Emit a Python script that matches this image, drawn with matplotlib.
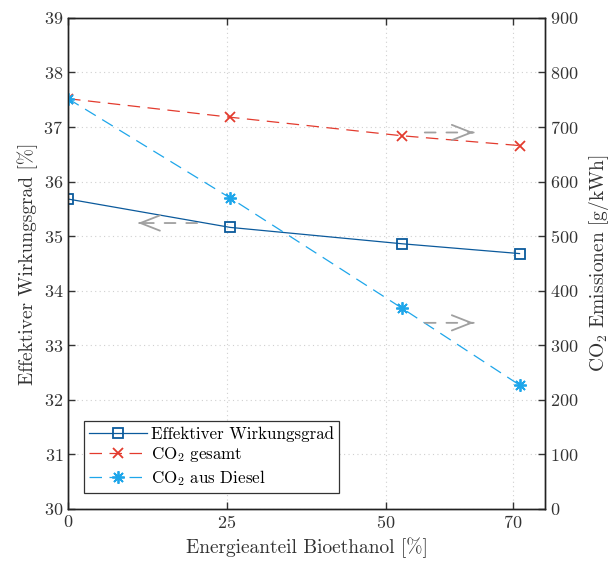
import matplotlib
matplotlib.use('Agg')
import matplotlib.pyplot as plt

# Data
anteil = [0, 25.5, 52.5, 71]
wirkungsgrad = [35.68, 35.16, 34.86, 34.68]
co2_gesamt = [752, 718, 684, 666]
co2_diesel = [752, 570, 368, 227]

x_ticks = [0, 25, 50, 70]

blue = '#0b5a9c'
red = '#e33b2e'
lightblue = '#1ea6ea'
grey = '#a0a0a0'

plt.rcParams['font.family'] = 'cmr10'
plt.rcParams['mathtext.fontset'] = 'cm'
plt.rcParams['axes.formatter.use_mathtext'] = True
plt.rcParams['font.size'] = 13

fig = plt.figure(figsize=(6.13, 5.61), dpi=100)
ax = fig.add_axes([0.111, 0.093, 0.778, 0.875])
ax2 = ax.twinx()

# left axis
l1, = ax.plot(anteil, wirkungsgrad, '-', color=blue, lw=0.9,
              marker='s', ms=7, mfc='none', mec=blue, mew=1.3,
              label='Effektiver Wirkungsgrad')
ax.set_xlim(0, 75)
ax.set_ylim(30, 39)
ax.set_xticks(x_ticks)
ax.set_yticks(range(30, 40))
ax.grid(True, ls=(0, (1, 3)), color='#d0d0d0', lw=0.8)
ax.set_xlabel('Energieanteil Bioethanol [%]', fontsize=14, color='#333333', labelpad=5)
ax.set_ylabel('Effektiver Wirkungsgrad [%]', fontsize=14, color='#333333', labelpad=4)
ax.tick_params(direction='in', top=True, length=5, width=1.0, colors='#333333', labelcolor='#333333')

# right axis
l2, = ax2.plot(anteil, co2_gesamt, color=red, lw=0.9, ls=(0, (10, 6)),
               marker='x', ms=7, mew=1.3, label=r'CO$_2$ gesamt')
l3, = ax2.plot(anteil, co2_diesel, color=lightblue, lw=0.9, ls=(0, (10, 6)),
               marker=(8, 2, 0), ms=9, mew=1.3, label=r'CO$_2$ aus Diesel')
ax2.set_ylim(0, 900)
ax2.set_yticks(range(0, 1000, 100))
ax2.set_ylabel(r'CO$_2$ Emissionen [g/kWh]', fontsize=14, color='#333333', labelpad=6)
ax2.tick_params(direction='in', length=5, width=1.0, colors='#333333', labelcolor='#333333')

for a in (ax, ax2):
    for s in a.spines.values():
        s.set_color('#222222')
        s.set_linewidth(1.0)

# arrows showing which axis a curve belongs to: dashed shaft, solid open head
def axis_arrow(a, start, end, y):
    a.annotate('', xy=(end, y), xytext=(start, y),
               arrowprops=dict(arrowstyle='-', color=grey, lw=1.3,
                               ls=(0, (6, 6)), shrinkA=0, shrinkB=0))
    step = 0.3 if end > start else -0.3
    a.annotate('', xy=(end, y), xytext=(end - step, y),
               arrowprops=dict(arrowstyle='->,head_length=1.4,head_width=0.55',
                               color=grey, lw=1.3, mutation_scale=10,
                               shrinkA=0, shrinkB=0))

axis_arrow(ax, 20.3, 11.0, 35.24)
axis_arrow(ax2, 56.1, 63.8, 690)
axis_arrow(ax2, 56.1, 63.8, 341)

leg = ax2.legend(handles=[l1, l2, l3], loc='lower left', bbox_to_anchor=(0.034, 0.033),
                 borderaxespad=0, fancybox=False, edgecolor='#333333', framealpha=1,
                 handlelength=3.4, borderpad=0.3, labelspacing=0.2, handletextpad=0.25,
                 fontsize=12.2)
leg.get_frame().set_linewidth(0.9)

fig.savefig('out.png', dpi=100)
